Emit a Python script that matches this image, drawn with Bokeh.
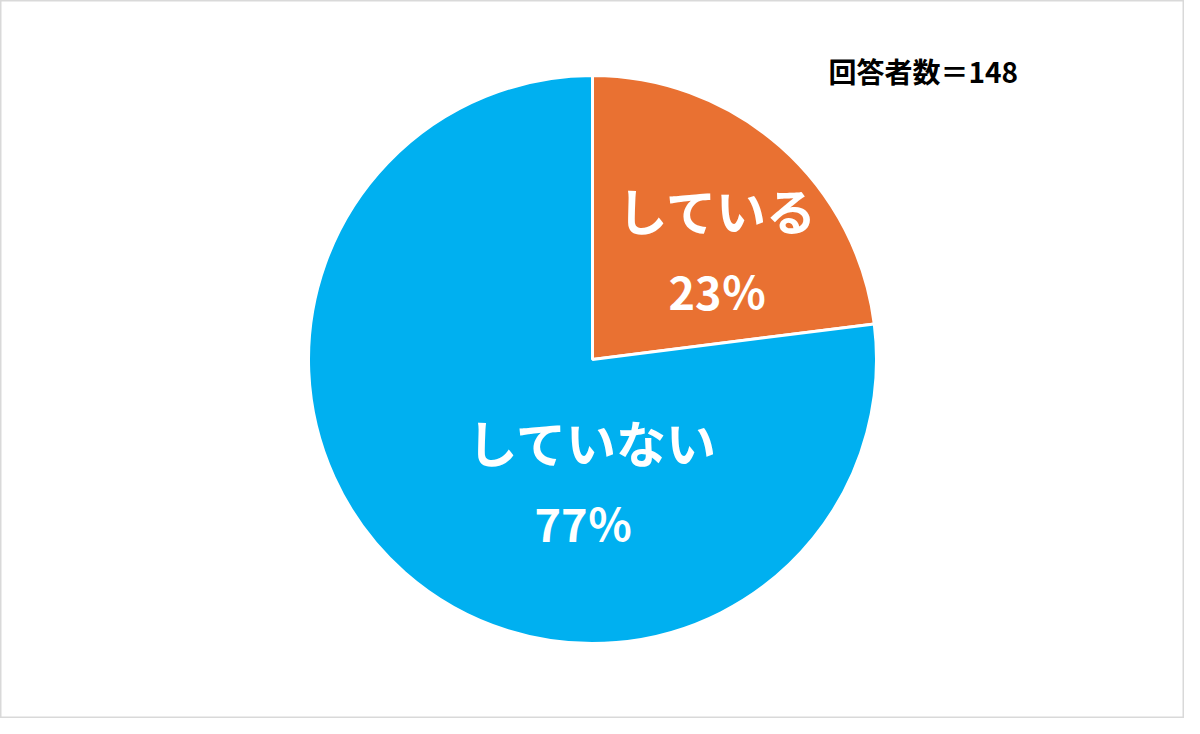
import numpy as np
from bokeh.plotting import figure
from bokeh.models import ColumnDataSource
from bokeh.core.properties import value
from bokeh.embed import file_html
from bokeh.resources import INLINE

categories = ["している", "していない"]
percents = [23, 77]
colors = ["#E97132", "#00B0F0"]
respondents = 148

W, H = 1184, 718
cx, cy, R = 592, 359, 284

frac = np.array(percents, dtype=float) / sum(percents)
cum = np.concatenate([[0], np.cumsum(frac)])
start = np.pi / 2 - cum[:-1] * 2 * np.pi
end = np.pi / 2 - cum[1:] * 2 * np.pi

src = ColumnDataSource(dict(cat=categories, start=start, end=end, color=colors))

p = figure(width=W, height=H, x_range=(0, W), y_range=(0, H),
           output_backend="svg", toolbar_location=None, min_border=0)
p.axis.visible = False
p.grid.visible = False
p.outline_line_color = "#D9D9D9"
p.outline_line_width = 2
p.background_fill_color = "white"
p.border_fill_color = "white"

p.wedge(x=cx, y=cy, radius=R, start_angle="start", end_angle="end",
        direction="clock", fill_color="color", line_color="white",
        line_width=3, source=src)

# label anchors relative to the pie centre (layout offsets)
off_x = [125, -4]
off_y = [110, -122]
lx = [cx + dx for dx in off_x]
ly = [cy + dy for dy in off_y]
name_y = [y + 41 for y in ly]
pct_y = [y - 41 for y in ly]
pct_txt = [f"{v}％" for v in percents]

p.text(x=[x + (0 if i == 0 else 4) for i, x in enumerate(lx)], y=name_y, text=categories,
       text_color="white", text_font=value("Noto Sans CJK JP"), text_font_style="bold",
       text_font_size="50px", text_align="center", text_baseline="middle")
p.text(x=[x - (0 if i == 0 else 5) for i, x in enumerate(lx)], y=pct_y, text=pct_txt,
       text_color="white", text_font=value("Noto Sans CJK JP"), text_font_style="bold",
       text_font_size="45px", text_align="center", text_baseline="middle")

p.text(x=[828], y=[H - 70], text=[f"回答者数＝{respondents}"], text_color="black",
       text_font=value("Noto Sans CJK JP"), text_font_style="bold",
       text_font_size="28px", text_align="left", text_baseline="middle")

open("out.html", "w").write(file_html(p, INLINE))
